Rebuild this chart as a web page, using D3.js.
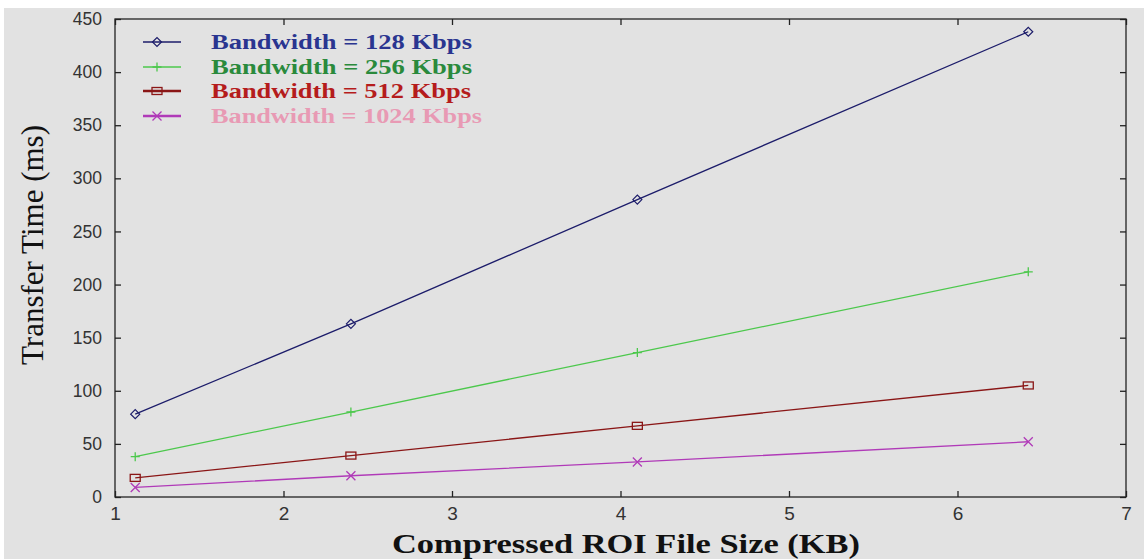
<!DOCTYPE html>
<html>
<head>
<meta charset="utf-8">
<script src="https://cdnjs.cloudflare.com/ajax/libs/d3/7.8.5/d3.min.js"></script>
<style>
  html, body { margin: 0; padding: 0; background: #fff; }
  svg { display: block; }
</style>
</head>
<body>
<svg id="chart"></svg>
<script>
// file sizes (KB) along x
var fileSizes = [1.12, 2.4, 4.1, 6.42];
// transfer times (ms), one array per bandwidth
var bw128 = [78, 163, 280, 438];
var bw256 = [38, 80, 136, 212];
var bw512 = [18, 39, 67, 105];
var bw1024 = [9, 20, 33, 52];
var seriesNames = ["Bandwidth = 128 Kbps", "Bandwidth = 256 Kbps", "Bandwidth = 512 Kbps", "Bandwidth = 1024 Kbps"];
var xTicks = [1, 2, 3, 4, 5, 6, 7];
var yTicks = [0, 50, 100, 150, 200, 250, 300, 350, 400, 450];

var width = 1144, height = 559;
var plotLeft = 115, plotRight = 1126, plotTop = 19, plotBottom = 497;

var styles = [
  {line: "#1c1c6a", text: "#2a3590", marker: "diamond"},
  {line: "#4cc84c", text: "#2a8a3c", marker: "plus"},
  {line: "#8a1616", text: "#b51c1c", marker: "square"},
  {line: "#b03ab8", text: "#e89ab4", marker: "cross"}
];
var legendWidths = [261, 261, 260, 271];

var allSeries = [bw128, bw256, bw512, bw1024];

var svg = d3.select("#chart").attr("width", width).attr("height", height);

// background, white band at top and left like the scan
svg.append("rect").attr("width", width).attr("height", height).attr("fill", "#fff");
svg.append("rect").attr("x", 4).attr("y", 8).attr("width", width - 4).attr("height", height - 8).attr("fill", "#e2e2e2");

var x = d3.scaleLinear().domain([1, 7]).range([plotLeft, plotRight]);
var y = d3.scaleLinear().domain([0, 450]).range([plotBottom, plotTop]);

var tickFont = "'Liberation Sans', Arial, sans-serif";
var narrowFont = "'Liberation Sans Narrow', 'Arial Narrow', 'Liberation Sans', sans-serif";
var serif = "'Liberation Serif', 'Times New Roman', serif";

// frame
svg.append("rect")
  .attr("x", plotLeft).attr("y", plotTop)
  .attr("width", plotRight - plotLeft).attr("height", plotBottom - plotTop)
  .attr("fill", "none").attr("stroke", "#222").attr("stroke-width", 1.3);

// axes with inward ticks
var fmt = d3.format("d");
var gx = svg.append("g").attr("transform", "translate(0," + plotBottom + ")")
  .call(d3.axisBottom(x).tickValues(xTicks).tickFormat(fmt).tickSizeInner(-6).tickSizeOuter(0).tickPadding(10));
var gxTop = svg.append("g").attr("transform", "translate(0," + plotTop + ")")
  .call(d3.axisTop(x).tickValues(xTicks).tickSizeInner(-6).tickSizeOuter(0).tickFormat(""));
var gy = svg.append("g").attr("transform", "translate(" + plotLeft + ",0)")
  .call(d3.axisLeft(y).tickValues(yTicks).tickFormat(fmt).tickSizeInner(-6).tickSizeOuter(0).tickPadding(13));
var gyRight = svg.append("g").attr("transform", "translate(" + plotRight + ",0)")
  .call(d3.axisRight(y).tickValues(yTicks).tickSizeInner(-6).tickSizeOuter(0).tickFormat(""));

[gx, gxTop, gy, gyRight].forEach(function(g){
  g.select(".domain").remove();
  g.selectAll(".tick line").attr("stroke", "#222").attr("stroke-width", 1.3);
});
gx.selectAll(".tick text").attr("font-family", narrowFont).attr("font-size", 19).attr("fill", "#333");
gy.selectAll(".tick text").attr("font-family", tickFont).attr("font-size", 17.5).attr("fill", "#333");

// axis titles
svg.append("text")
  .attr("transform", "translate(43,245) rotate(-90)")
  .attr("text-anchor", "middle")
  .attr("font-family", serif).attr("font-size", 31).attr("fill", "#111")
  .text("Transfer Time (ms)");
svg.append("text")
  .attr("x", 626).attr("y", 553)
  .attr("text-anchor", "middle")
  .attr("font-family", serif).attr("font-size", 28).attr("font-weight", "bold").attr("fill", "#111")
  .attr("textLength", 468).attr("lengthAdjust", "spacingAndGlyphs")
  .text("Compressed ROI File Size (KB)");

function drawMarker(g, type, color, cx, cy) {
  var s = 4.5;
  if (type === "diamond") {
    g.append("path")
      .attr("d", "M" + (cx - s) + "," + cy + "L" + cx + "," + (cy - s) + "L" + (cx + s) + "," + cy + "L" + cx + "," + (cy + s) + "Z")
      .attr("fill", "none").attr("stroke", color).attr("stroke-width", 1.2);
  } else if (type === "plus") {
    g.append("path")
      .attr("d", "M" + (cx - s) + "," + cy + "H" + (cx + s) + "M" + cx + "," + (cy - s) + "V" + (cy + s))
      .attr("stroke", color).attr("stroke-width", 1.3);
  } else if (type === "square") {
    g.append("rect")
      .attr("x", cx - 5).attr("y", cy - 3.5).attr("width", 10).attr("height", 7)
      .attr("fill", "none").attr("stroke", color).attr("stroke-width", 1.3);
  } else {
    g.append("path")
      .attr("d", "M" + (cx - s) + "," + (cy - s) + "L" + (cx + s) + "," + (cy + s) + "M" + (cx - s) + "," + (cy + s) + "L" + (cx + s) + "," + (cy - s))
      .attr("stroke", color).attr("stroke-width", 1.3);
  }
}

var line = d3.line()
  .x(function(d, i){ return x(fileSizes[i]); })
  .y(function(d){ return y(d); });

allSeries.forEach(function(vals, k){
  var g = svg.append("g");
  g.append("path").datum(vals)
    .attr("d", line)
    .attr("fill", "none")
    .attr("stroke", styles[k].line)
    .attr("stroke-width", 1.3);
  vals.forEach(function(v, i){
    drawMarker(g, styles[k].marker, styles[k].line, x(fileSizes[i]), y(v));
  });
});

// legend
var legendY = [42, 67, 91, 116];
seriesNames.forEach(function(name, k){
  var g = svg.append("g");
  var ly = legendY[k];
  g.append("line").attr("x1", 143).attr("x2", 181).attr("y1", ly).attr("y2", ly)
    .attr("stroke", styles[k].line).attr("stroke-width", k >= 2 ? 2.5 : 1.5);
  drawMarker(g, styles[k].marker, styles[k].line, 157, ly);
  g.append("text").attr("x", 211).attr("y", ly + 7)
    .attr("font-family", serif).attr("font-size", 21).attr("font-weight", "bold")
    .attr("fill", styles[k].text)
    .attr("textLength", legendWidths[k]).attr("lengthAdjust", "spacingAndGlyphs")
    .text(name);
});
</script>
</body>
</html>
